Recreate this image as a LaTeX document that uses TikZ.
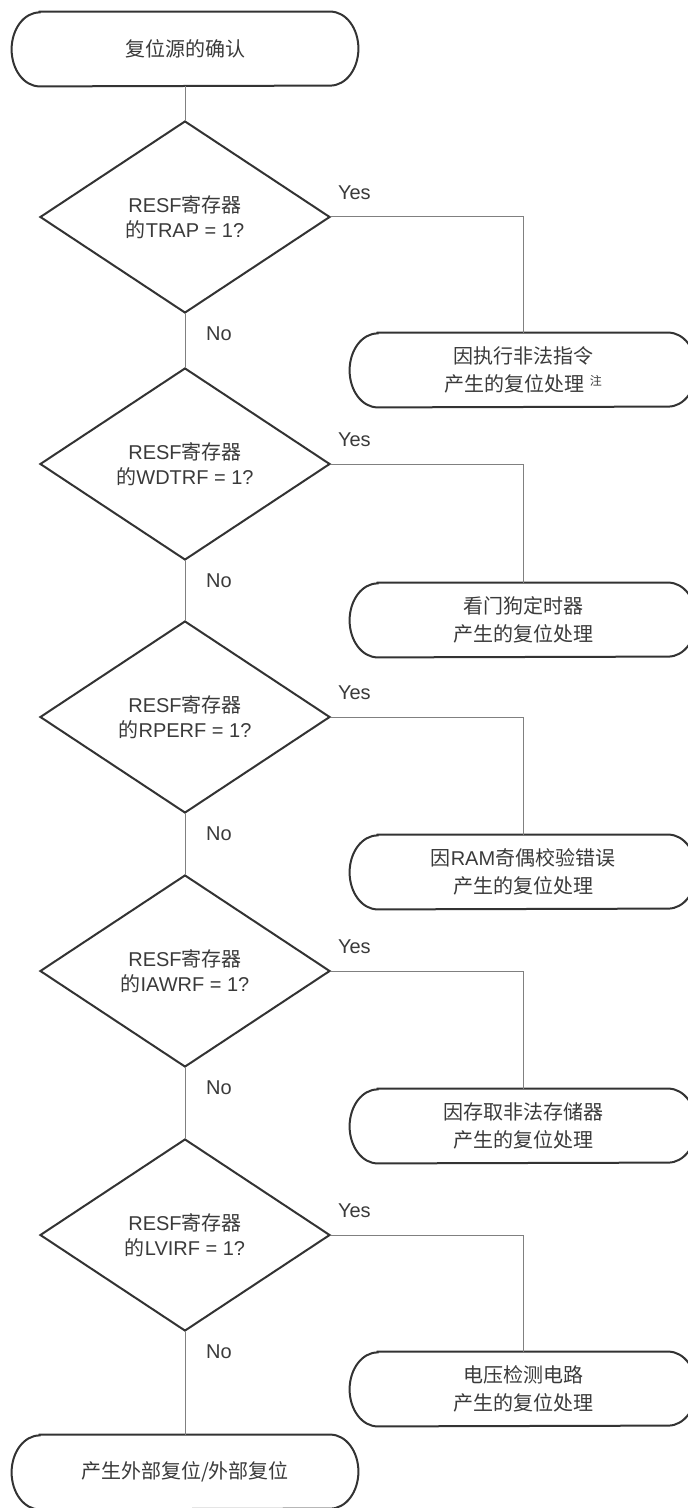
\documentclass[tikz,border=0pt]{standalone}
\usepackage{fontspec}
\setmainfont{Liberation Sans}
\newfontfamily\cjk{Noto Sans CJK SC}
\newcommand{\zh}[1]{{\cjk #1}}
\usetikzlibrary{shapes.geometric, positioning}

\definecolor{edgecol}{HTML}{333333}
\definecolor{wirecol}{HTML}{808080}
\definecolor{txtcol}{HTML}{3A3A3A}

\tikzset{
  term/.style={minimum width=173pt, minimum height=37pt, inner sep=0pt,
    text=txtcol, align=center, font=\fontsize{10}{14}\selectfont},
  termedge/.style={draw=edgecol, line width=1pt},
  test/.style={diamond, draw=edgecol, line width=1pt,
    minimum width=145pt, minimum height=96pt, inner sep=0pt,
    text=txtcol, align=center, font=\fontsize{10}{12.5}\selectfont},
  lab/.style={text=txtcol, font=\fontsize{10}{12}\selectfont},
  flow/.style={draw=wirecol, line width=0.5pt},
}

\begin{document}
\begin{tikzpicture}[x=0.5pt, y=-0.5pt]
  \useasboundingbox (0,0) rectangle (688,1508);

  \node[term] (start) at (185,49) {\zh{复位源的确认}};

  \node[test] (trap) at (185,217) {RESF\zh{寄存器}\\\zh{的}TRAP = 1?};
  \node[term] (trapres) at (523,370)
    {\zh{因执行非法指令}\\\zh{产生的复位处理}~\raisebox{0.6ex}{\fontsize{6}{6}\selectfont\zh{注}}};

  \node[test] (wdt) at (185,464) {RESF\zh{寄存器}\\\zh{的}WDTRF = 1?};
  \node[term] (wdtres) at (523,620) {\zh{看门狗定时器}\\\zh{产生的复位处理}};

  \node[test] (rper) at (185,717) {RESF\zh{寄存器}\\\zh{的}RPERF = 1?};
  \node[term] (rperres) at (523,872) {\zh{因}RAM\zh{奇偶校验错误}\\\zh{产生的复位处理}};

  \node[test] (iaw) at (185,971) {RESF\zh{寄存器}\\\zh{的}IAWRF = 1?};
  \node[term] (iawres) at (523,1126) {\zh{因存取非法存储器}\\\zh{产生的复位处理}};

  \node[test] (lvi) at (185,1235) {RESF\zh{寄存器}\\\zh{的}LVIRF = 1?};
  \node[term] (lvires) at (523,1389) {\zh{电压检测电路}\\\zh{产生的复位处理}};

  \node[term] (ext) at (185,1472) {\zh{产生外部复位/外部复位}};

  % rounded outlines of the terminals
  \foreach \n in {start, trapres, wdtres, rperres, iawres, lvires, ext}
    \draw[termedge] ([xshift=14pt]\n.north west) -- ([xshift=-14pt]\n.north east)
      arc[start angle=90, end angle=-90, x radius=14pt, y radius=18.5pt]
      -- ([xshift=14pt]\n.south west)
      arc[start angle=270, end angle=90, x radius=14pt, y radius=18.5pt]
      -- cycle;

  % Yes / No labels
  \node[lab, above right=5pt and 0pt of trap.east] (trapyes) {Yes};
  \node[lab, below right=3pt and 7pt of trap.south] (trapno) {No};
  \node[lab, above right=5pt and 0pt of wdt.east] (wdtyes) {Yes};
  \node[lab, below right=3pt and 7pt of wdt.south] (wdtno) {No};
  \node[lab, above right=5pt and 0pt of rper.east] (rperyes) {Yes};
  \node[lab, below right=3pt and 7pt of rper.south] (rperno) {No};
  \node[lab, above right=5pt and 0pt of iaw.east] (iawyes) {Yes};
  \node[lab, below right=3pt and 7pt of iaw.south] (iawno) {No};
  \node[lab, above right=5pt and 0pt of lvi.east] (lviyes) {Yes};
  \node[lab, below right=3pt and 7pt of lvi.south] (lvino) {No};

  % connectors
  \draw[flow] (start) -- (trap);
  \draw[flow] (trap.east) -| (trapres.north);
  \draw[flow] (trap.south) -- (wdt.north);
  \draw[flow] (wdt.east) -| (wdtres.north);
  \draw[flow] (wdt.south) -- (rper.north);
  \draw[flow] (rper.east) -| (rperres.north);
  \draw[flow] (rper.south) -- (iaw.north);
  \draw[flow] (iaw.east) -| (iawres.north);
  \draw[flow] (iaw.south) -- (lvi.north);
  \draw[flow] (lvi.east) -| (lvires.north);
  \draw[flow] (lvi.south) -- (ext.north);
\end{tikzpicture}
\end{document}
